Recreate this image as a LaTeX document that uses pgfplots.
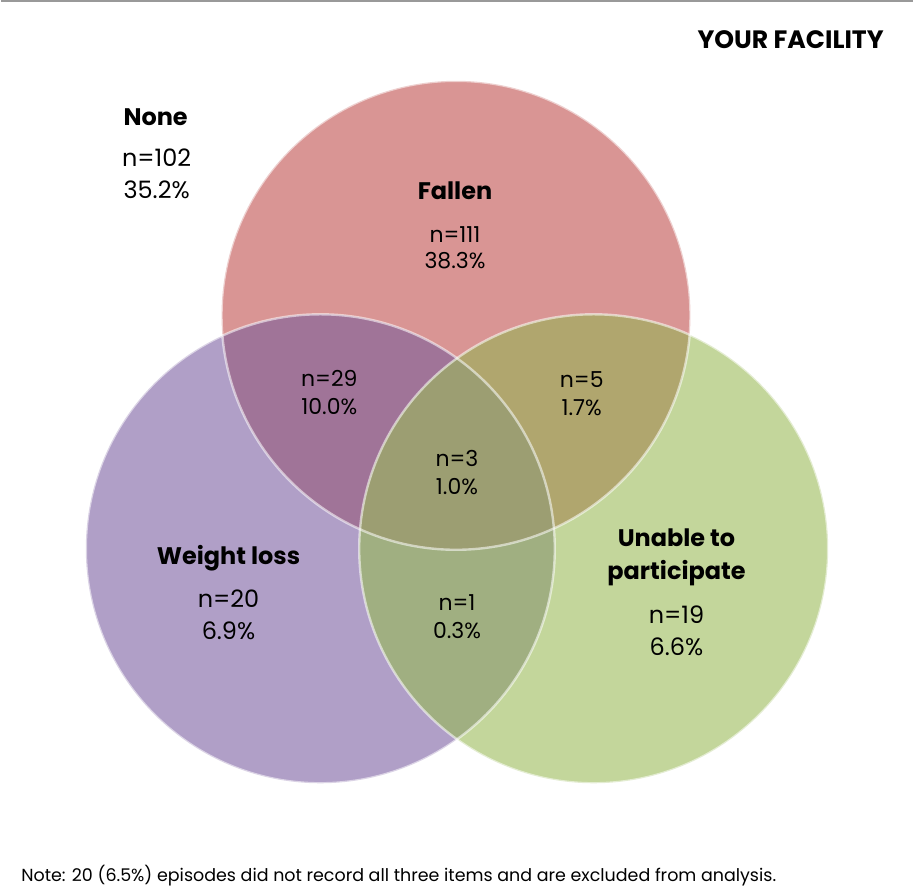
\documentclass[border=0pt]{standalone}
\usepackage{pgfplots}
\pgfplotsset{compat=1.18}
\usepackage{fontspec}
\setmainfont{Poppins}
\definecolor{cR}{RGB}{217,149,148}
\definecolor{cP}{RGB}{176,159,199}
\definecolor{cG}{RGB}{195,214,155}
\definecolor{cRP}{RGB}{160,116,152}
\definecolor{cRG}{RGB}{176,166,110}
\definecolor{cPG}{RGB}{160,175,129}
\definecolor{cRPG}{RGB}{156,158,114}
\begin{document}
\begin{tikzpicture}
\begin{axis}[
  width=457pt, height=457pt, scale only axis,
  xmin=0, xmax=914, ymin=0, ymax=914,
  hide axis, clip=false,
]
% circles: Fallen (456,598), Weight loss (320,364), Unable (594,364), r=235
\def\Rc{(axis cs:456,598) circle[radius=235]}
\def\Pc{(axis cs:320,364) circle[radius=235]}
\def\Gc{(axis cs:594,364) circle[radius=235]}
\draw[gray!80, line width=1pt] (axis cs:0,913) -- (axis cs:914,913);
\fill[cR] \Rc;
\fill[cP] \Pc;
\fill[cG] \Gc;
\begin{scope}\clip \Rc; \fill[cRP] \Pc; \end{scope}
\begin{scope}\clip \Rc; \fill[cRG] \Gc; \end{scope}
\begin{scope}\clip \Pc; \fill[cPG] \Gc; \end{scope}
\begin{scope}\clip \Rc; \clip \Pc; \fill[cRPG] \Gc; \end{scope}
\draw[white, opacity=0.55, line width=1.2pt] \Rc;
\draw[white, opacity=0.55, line width=1.2pt] \Pc;
\draw[white, opacity=0.55, line width=1.2pt] \Gc;
% labels
\node[anchor=east, inner sep=0pt, font=\bfseries\fontsize{12.6}{14}\selectfont] at (axis cs:885,874) {YOUR FACILITY};
\node[font=\bfseries\fontsize{12}{14}\selectfont] at (axis cs:155,797) {None};
\node[font=\fontsize{12}{15}\selectfont, align=center] at (axis cs:156,740) {n=102\\[1pt]35.2\%};
\node[font=\bfseries\fontsize{12}{14}\selectfont] at (axis cs:455,723) {Fallen};
\node[font=\fontsize{11}{13}\selectfont, align=center] at (axis cs:455,666) {n=111\\38.3\%};
\node[font=\fontsize{11}{13}\selectfont, align=center] at (axis cs:329,521) {n=29\\[1pt]10.0\%};
\node[font=\fontsize{11}{13}\selectfont, align=center] at (axis cs:582,519) {n=5\\[1pt]1.7\%};
\node[font=\fontsize{11}{13}\selectfont, align=center] at (axis cs:457,440) {n=3\\[1pt]1.0\%};
\node[font=\bfseries\fontsize{12}{14}\selectfont] at (axis cs:228,355) {Weight loss};
\node[font=\fontsize{12}{15}\selectfont, align=center] at (axis cs:228,298) {n=20\\[1pt]6.9\%};
\node[font=\fontsize{11}{13}\selectfont, align=center] at (axis cs:457,296) {n=1\\[1pt]0.3\%};
\node[font=\bfseries\fontsize{12}{16.5}\selectfont, align=center] at (axis cs:677,355) {Unable to\\participate};
\node[font=\fontsize{12}{15}\selectfont, align=center] at (axis cs:677,282) {n=19\\[1pt]6.6\%};
\node[anchor=west, inner sep=0pt, font=\fontsize{8.75}{11}\selectfont] at (axis cs:20,36) {Note: 20 (6.5\%) episodes did not record all three items and are excluded from analysis.};
\end{axis}
\end{tikzpicture}
\end{document}
